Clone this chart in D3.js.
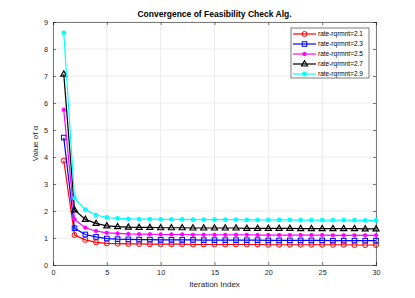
<!DOCTYPE html>
<html>
<head>
<meta charset="utf-8">
<script src="https://cdn.jsdelivr.net/npm/d3@7"></script>
<style>
body { margin: 0; background: #fff; }
text { font-family: "Liberation Sans", Arial, sans-serif; }
</style>
</head>
<body>
<div id="vis"></div>
<script>
var iterations = d3.range(1, 31);
var seriesNames = ["rate-rqrmnt=2.1", "rate-rqrmnt=2.3", "rate-rqrmnt=2.5", "rate-rqrmnt=2.7", "rate-rqrmnt=2.9"];
var rate21 = [3.87, 1.11, 0.93, 0.84, 0.80, 0.79, 0.78, 0.78, 0.77, 0.77, 0.77, 0.77, 0.76, 0.76, 0.76,
              0.76, 0.76, 0.76, 0.76, 0.75, 0.75, 0.75, 0.75, 0.75, 0.75, 0.75, 0.75, 0.74, 0.74, 0.74];
var rate23 = [4.72, 1.36, 1.13, 1.04, 0.98, 0.96, 0.95, 0.94, 0.94, 0.93, 0.93, 0.93, 0.93, 0.92, 0.92,
              0.92, 0.92, 0.92, 0.92, 0.91, 0.91, 0.91, 0.91, 0.91, 0.91, 0.90, 0.90, 0.90, 0.90, 0.90];
var rate25 = [5.75, 1.69, 1.38, 1.26, 1.19, 1.17, 1.15, 1.14, 1.14, 1.13, 1.13, 1.13, 1.12, 1.12, 1.12,
              1.12, 1.12, 1.12, 1.11, 1.11, 1.11, 1.11, 1.11, 1.11, 1.11, 1.10, 1.10, 1.10, 1.10, 1.10];
var rate27 = [7.07, 2.04, 1.69, 1.54, 1.45, 1.42, 1.40, 1.39, 1.39, 1.38, 1.38, 1.38, 1.37, 1.37, 1.37,
              1.37, 1.37, 1.36, 1.36, 1.36, 1.36, 1.36, 1.35, 1.35, 1.35, 1.35, 1.35, 1.35, 1.34, 1.34];
var rate29 = [8.60, 2.48, 2.05, 1.85, 1.76, 1.73, 1.71, 1.70, 1.70, 1.69, 1.69, 1.69, 1.68, 1.68, 1.68,
              1.68, 1.68, 1.67, 1.67, 1.67, 1.67, 1.67, 1.66, 1.66, 1.66, 1.66, 1.66, 1.66, 1.65, 1.65];
var xTicks = [0, 5, 10, 15, 20, 25, 30];
var yTicks = [0, 1, 2, 3, 4, 5, 6, 7, 8, 9];

var colors = ["#ff0000", "#0000ff", "#ff00ff", "#000000", "#00ffff"];
var markers = ["circle", "square", "star", "triangle", "dot"];
var allSeries = [rate21, rate23, rate25, rate27, rate29];

var width = 415, height = 298;
var margin = {top: 22, right: 39, bottom: 33, left: 53};

var svg = d3.select("#vis").append("svg")
  .attr("width", width).attr("height", height);

var x = d3.scaleLinear().domain([0, 30]).range([margin.left, width - margin.right]);
var y = d3.scaleLinear().domain([0, 9]).range([height - margin.bottom, margin.top]);

// grid
svg.append("g").selectAll("line.vx").data(xTicks).enter().append("line")
  .attr("x1", function(d) { return x(d); }).attr("x2", function(d) { return x(d); })
  .attr("y1", y(0)).attr("y2", y(9))
  .attr("stroke", "#e6e6e6").attr("stroke-width", 0.8);
svg.append("g").selectAll("line.hy").data(yTicks).enter().append("line")
  .attr("y1", function(d) { return y(d); }).attr("y2", function(d) { return y(d); })
  .attr("x1", x(0)).attr("x2", x(30))
  .attr("stroke", "#e6e6e6").attr("stroke-width", 0.8);

// axes
var xAxis = svg.append("g").attr("transform", "translate(0," + y(0) + ")")
  .call(d3.axisBottom(x).tickValues(xTicks).tickSize(-3).tickPadding(5));
var xTop = svg.append("g").attr("transform", "translate(0," + y(9) + ")")
  .call(d3.axisTop(x).tickValues(xTicks).tickSize(-3).tickFormat(""));
var yAxis = svg.append("g").attr("transform", "translate(" + x(0) + ",0)")
  .call(d3.axisLeft(y).tickValues(yTicks).tickSize(-3).tickPadding(5));
var yRight = svg.append("g").attr("transform", "translate(" + x(30) + ",0)")
  .call(d3.axisRight(y).tickValues(yTicks).tickSize(-3).tickFormat(""));
[xAxis, xTop, yAxis, yRight].forEach(function(g) {
  g.selectAll("path").attr("stroke", "#262626").attr("stroke-width", 0.6);
  g.selectAll("line").attr("stroke", "#262626").attr("stroke-width", 0.6);
  g.selectAll("text").attr("fill", "#262626").style("font-size", "7.3px")
    .style("font-family", "'Liberation Sans', Arial, sans-serif");
});

function drawMarker(g, kind, color, cx, cy) {
  if (kind == "circle") {
    g.append("circle").attr("cx", cx).attr("cy", cy).attr("r", 2.5)
      .attr("fill", "none").attr("stroke", color).attr("stroke-width", 1);
  } else if (kind == "square") {
    g.append("rect").attr("x", cx - 2.3).attr("y", cy - 2.3).attr("width", 4.6).attr("height", 4.6)
      .attr("fill", "none").attr("stroke", color).attr("stroke-width", 1);
  } else if (kind == "star") {
    g.append("path").attr("d", d3.symbol().type(d3.symbolCross).size(10)())
      .attr("transform", "translate(" + cx + "," + cy + ") rotate(45)")
      .attr("fill", color);
    g.append("path").attr("d", d3.symbol().type(d3.symbolCross).size(10)())
      .attr("transform", "translate(" + cx + "," + cy + ")")
      .attr("fill", color);
  } else if (kind == "triangle") {
    g.append("path").attr("d", "M" + cx + "," + (cy - 3.2) + "L" + (cx + 3) + "," + (cy + 2) + "L" + (cx - 3) + "," + (cy + 2) + "Z")
      .attr("fill", "none").attr("stroke", color).attr("stroke-width", 1.2);
  } else {
    g.append("circle").attr("cx", cx).attr("cy", cy).attr("r", 2.4).attr("fill", color);
  }
}

var line = d3.line()
  .x(function(d, i) { return x(iterations[i]); })
  .y(function(d) { return y(d); });

allSeries.forEach(function(vals, k) {
  var g = svg.append("g");
  g.append("path").datum(vals).attr("d", line)
    .attr("fill", "none").attr("stroke", colors[k]).attr("stroke-width", 1.2);
  vals.forEach(function(v, i) {
    drawMarker(g, markers[k], colors[k], x(iterations[i]), y(v));
  });
});

// title and labels
svg.append("text").attr("x", (x(0) + x(30)) / 2).attr("y", 17)
  .attr("text-anchor", "middle").style("font-size", "8.5px").style("font-weight", "bold")
  .attr("fill", "#000").text("Convergence of Feasibility Check Alg.");
svg.append("text").attr("x", (x(0) + x(30)) / 2).attr("y", 287)
  .attr("text-anchor", "middle").style("font-size", "8px").attr("fill", "#262626")
  .text("Iteration Index");
svg.append("text").attr("transform", "translate(38," + ((y(0) + y(9)) / 2) + ") rotate(-90)")
  .attr("text-anchor", "middle").style("font-size", "8px").attr("fill", "#262626")
  .text("Value of α");

// legend
var legend = svg.append("g");
legend.append("rect").attr("x", 291).attr("y", 28).attr("width", 78).attr("height", 50)
  .attr("fill", "#fff").attr("stroke", "#262626").attr("stroke-width", 0.6);
seriesNames.forEach(function(name, k) {
  var ly = 34 + k * 10;
  legend.append("line").attr("x1", 293).attr("x2", 316).attr("y1", ly).attr("y2", ly)
    .attr("stroke", colors[k]).attr("stroke-width", 1.2);
  drawMarker(legend, markers[k], colors[k], 304.5, ly);
  legend.append("text").attr("x", 318).attr("y", ly + 2.3).style("font-size", "6.5px")
    .attr("fill", "#000").text(name);
});
</script>
</body>
</html>
